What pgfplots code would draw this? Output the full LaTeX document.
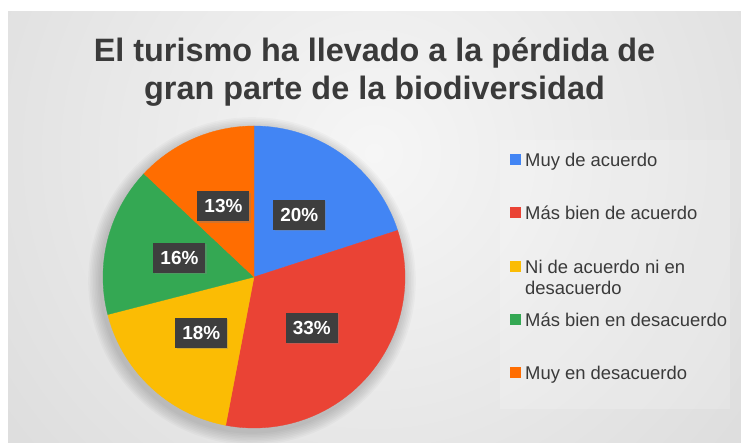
\documentclass[border=0pt]{standalone}
\usepackage{pgfplots}
\pgfplotsset{compat=1.18}
\usepackage{pgfplotstable}
\usepackage{fontspec}
\setmainfont{Liberation Sans}
\usetikzlibrary{shadows}

\definecolor{slice0}{HTML}{4285F4}
\definecolor{slice1}{HTML}{EA4335}
\definecolor{slice2}{HTML}{FBBC04}
\definecolor{slice3}{HTML}{34A853}
\definecolor{slice4}{HTML}{FF6D01}
\definecolor{bgin}{HTML}{F6F6F6}
\definecolor{bgout}{HTML}{C4C4C4}
\definecolor{boxgray}{HTML}{3E3E3E}
\definecolor{txt}{HTML}{3A3A3A}

% share of answers, clockwise from 12 o'clock
\pgfplotstableread[col sep=comma]{
label,value
Muy de acuerdo,20
Más bien de acuerdo,33
Ni de acuerdo ni en desacuerdo,18
Más bien en desacuerdo,16
Muy en desacuerdo,13
}\piedata

\tikzset{pctbox/.style={fill=boxgray, text=white, font=\fontsize{19}{22}\selectfont\bfseries,
  inner xsep=7bp, inner ysep=0pt, minimum height=30bp,
  drop shadow={shadow xshift=1.2bp, shadow yshift=-1.2bp, opacity=0.35}}}

\begin{document}
\begin{tikzpicture}
\useasboundingbox (0,0) rectangle (741bp,443bp);
\fill[white] (0,0) rectangle (741bp,443bp);
\begin{scope}
  \clip (8bp,0) rectangle (741bp,431bp);
  \shade[inner color=bgin, outer color=bgout] (374bp,290bp) circle[radius=950bp];
\end{scope}
% legend panel
\fill[white, opacity=0.18] (500bp,34bp) rectangle (730bp,303bp);
% soft shadow under the pie
\foreach \k in {1,...,8}{\fill[black, opacity=0.025] (252bp,162bp) circle[radius=151bp+\k*1.6bp];}

\begin{axis}[
  at={(0,0)}, anchor=south west,
  width=741bp, height=443bp, scale only axis,
  xmin=0, xmax=741, ymin=0, ymax=443,
  hide axis, clip=false,
]
\pgfmathsetmacro{\startang}{90}
\pgfplotsforeachungrouped \i in {0,...,4}{%
  \pgfplotstablegetelem{\i}{value}\of\piedata
  \pgfmathsetmacro{\endang}{\startang-3.6*\pgfplotsretval}
  \edef\temp{%
    \noexpand\addplot[fill=slice\i, draw=slice\i, line width=0.3bp, domain=\endang:\startang, samples=90, variable=\noexpand\t]
      ({254+151*cos(\noexpand\t)},{166+151*sin(\noexpand\t)}) -- (axis cs:254,166) -- cycle;
  }\temp
  \let\startang\endang
}
\pgfmathsetmacro{\startang}{90}
\pgfplotsforeachungrouped \i in {0,...,4}{%
  \pgfplotstablegetelem{\i}{value}\of\piedata
  \let\val\pgfplotsretval
  \pgfmathsetmacro{\endang}{\startang-3.6*\val}
  \pgfmathsetmacro{\lx}{254+77*cos((\startang+\endang)/2)}
  \pgfmathsetmacro{\ly}{166+77*sin((\startang+\endang)/2)}
  \pgfmathtruncatemacro{\pct}{\val}
  \edef\temp{\noexpand\node[pctbox] at (axis cs:\lx,\ly) {\pct\noexpand\%};}\temp
  \let\startang\endang
}
\end{axis}

% title (base anchor = last line)
\node[anchor=base, align=center, text=txt, font=\fontsize{32.5}{39}\selectfont\bfseries]
  at (374.5bp,343bp) {El turismo ha llevado a la pérdida de\\gran parte de la biodiversidad};

% legend
\begin{scope}[every node/.style={anchor=base west, text=txt, font=\fontsize{18.5}{20.5}\selectfont, inner sep=0pt, align=left}]
\fill[slice0] (510bp,277.5bp) rectangle ++(11bp,11bp);
\node at (525bp,276.4bp) {Muy de acuerdo};
\fill[slice1] (510bp,224.5bp) rectangle ++(11bp,11bp);
\node at (525bp,223.4bp) {Más bien de acuerdo};
\fill[slice2] (510bp,170.5bp) rectangle ++(11bp,11bp);
\node at (525bp,148.9bp) {Ni de acuerdo ni en\\desacuerdo};
\fill[slice3] (510bp,117.5bp) rectangle ++(11bp,11bp);
\node at (525bp,116.4bp) {Más bien en desacuerdo};
\fill[slice4] (510bp,64.5bp) rectangle ++(11bp,11bp);
\node at (525bp,63.4bp) {Muy en desacuerdo};
\end{scope}
\end{tikzpicture}
\end{document}
